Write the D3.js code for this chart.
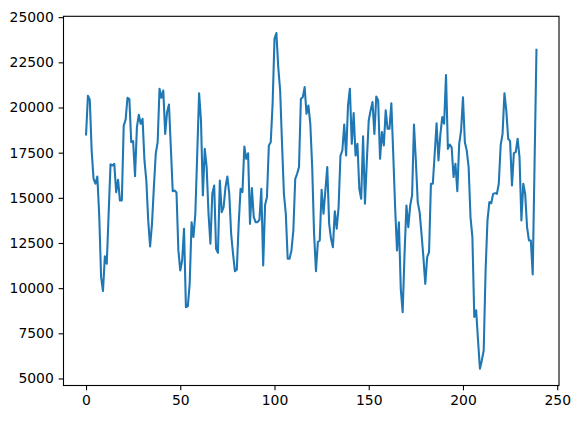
<!DOCTYPE html>
<html>
<head>
<meta charset="utf-8">
<script src="https://cdn.jsdelivr.net/npm/d3@7"></script>
<style>
  body { margin: 0; background: #fff; }
  text { font-family: "DejaVu Sans", sans-serif; }
</style>
</head>
<body>
<script>
// Series values, one per index 0..239.
const values = [
  18450, 20650, 20430, 17600, 16050, 15780, 16180, 14050, 10610, 9840,
  11760, 11350, 14120, 16850, 16790, 16880, 15310, 16000, 14850, 14850,
  19000, 19320, 20540, 20460, 18080, 18140, 16200, 18910, 19600, 19100,
  19370, 17070, 15960, 13750, 12310, 13560, 15590, 17440, 18080, 21040,
  20540, 20940, 18540, 19740, 20170, 17800, 15370, 15400, 15300, 12090,
  10980, 11530, 13280, 8950, 8990, 10240, 13650, 12830, 14120, 17440,
  20790, 19280, 15130, 17710, 16700, 14120, 12460, 15220, 15680, 12180,
  11960, 15960, 14210, 14480, 15590, 16180, 15220, 13010, 11900, 10940,
  11020, 13560, 15500, 15320, 17840, 17160, 17470, 13560, 15540, 13930,
  13650, 13650, 13780, 15500, 11260, 14600, 15040, 17900, 18080, 20200,
  23800, 24120, 22230, 20940, 17990, 15220, 14120, 11630, 11630, 12090,
  13190, 16050, 16330, 16700, 20480, 20570, 21130, 19650, 20110, 19100,
  16700, 13010, 10940, 12550, 12640, 15440, 14120, 15410, 16700, 13560,
  12730, 12270, 14260, 13290, 14480, 17340, 17620, 19060, 17340, 20110,
  21040, 17990, 19690, 17340, 17990, 15500, 14950, 18400, 14670, 17070,
  19280, 19840, 20300, 18540, 20610, 20390, 17160, 18640, 17900, 19840,
  18820, 18820, 20240, 17440, 14480, 12090, 13650, 9960, 8670, 11900,
  14580, 13380, 14580, 15130, 19060, 17070, 14760, 14210, 13010, 11720,
  10240, 11720, 11990, 15780, 15780, 17440, 19130, 17070, 18500, 19470,
  19100, 21800, 17710, 17950, 17800, 16150, 16880, 15370, 17990, 18730,
  20570, 18080, 17620, 16700, 13930, 12820, 8400, 8770, 7100, 5540,
  6000, 6550, 10980, 13750, 14760, 14700, 15220, 15260, 15220, 15780,
  17900, 18540, 20790, 19830, 18270, 18140, 15690, 17470, 17530, 18270,
  17250, 13750, 15780, 15220, 13380, 12640, 12640, 10760, 17000, 23250
];

// Tick values on both axes.
const xTicks = [0, 50, 100, 150, 200, 250];
const yTicks = [5000, 7500, 10000, 12500, 15000, 17500, 20000, 22500, 25000];

// Figure size.
const Width = 579;
const Height = 423;

// Axes box in pixels.
const Left = 63.5;
const Right = 559;
const Top = 16.3;
const Bottom = 385.5;

// Tick length and padding (3.5pt at 100 dpi).
const TickLen = 4.86;
const FontSize = 13.9;

// Matplotlib style 5% data margins.
const xMax = values.length - 1;
const xPad = xMax * 0.05;
const yMin = d3.min(values);
const yMax = d3.max(values);
const yPad = (yMax - yMin) * 0.05;

const x = d3.scaleLinear()
    .domain([-xPad, xMax + xPad])
    .range([Left, Right]);

const y = d3.scaleLinear()
    .domain([yMin - yPad, yMax + yPad])
    .range([Bottom, Top]);

// Append SVG container.
const svg = d3.select("body").append("svg")
    .attr("width", Width)
    .attr("height", Height);

// Data line.
const line = d3.line()
    .x((d, i) => x(i))
    .y(d => y(d));

svg.append("path")
    .datum(values)
    .attr("fill", "none")
    .attr("stroke", "#1f77b4")
    .attr("stroke-width", 2.08)
    .attr("stroke-linejoin", "round")
    .attr("stroke-linecap", "butt")
    .attr("d", line);

// X axis.
const xAxis = svg.append("g")
    .attr("transform", `translate(0,${Bottom})`)
    .call(d3.axisBottom(x).tickValues(xTicks).tickFormat(d3.format("d"))
        .tickSize(TickLen).tickPadding(TickLen));

// Y axis.
const yAxis = svg.append("g")
    .attr("transform", `translate(${Left},0)`)
    .call(d3.axisLeft(y).tickValues(yTicks).tickFormat(d3.format("d"))
        .tickSize(TickLen).tickPadding(TickLen));

[xAxis, yAxis].forEach(g => {
    g.select(".domain").remove();
    g.selectAll(".tick line").attr("stroke", "#000").attr("stroke-width", 1.1);
    g.selectAll(".tick text")
        .attr("fill", "#000")
        .style("font-family", "'DejaVu Sans', sans-serif")
        .style("font-size", FontSize + "px");
});

// Axes frame.
svg.append("rect")
    .attr("x", Left)
    .attr("y", Top)
    .attr("width", Right - Left)
    .attr("height", Bottom - Top)
    .attr("fill", "none")
    .attr("stroke", "#000")
    .attr("stroke-width", 1.1);
</script>
</body>
</html>
